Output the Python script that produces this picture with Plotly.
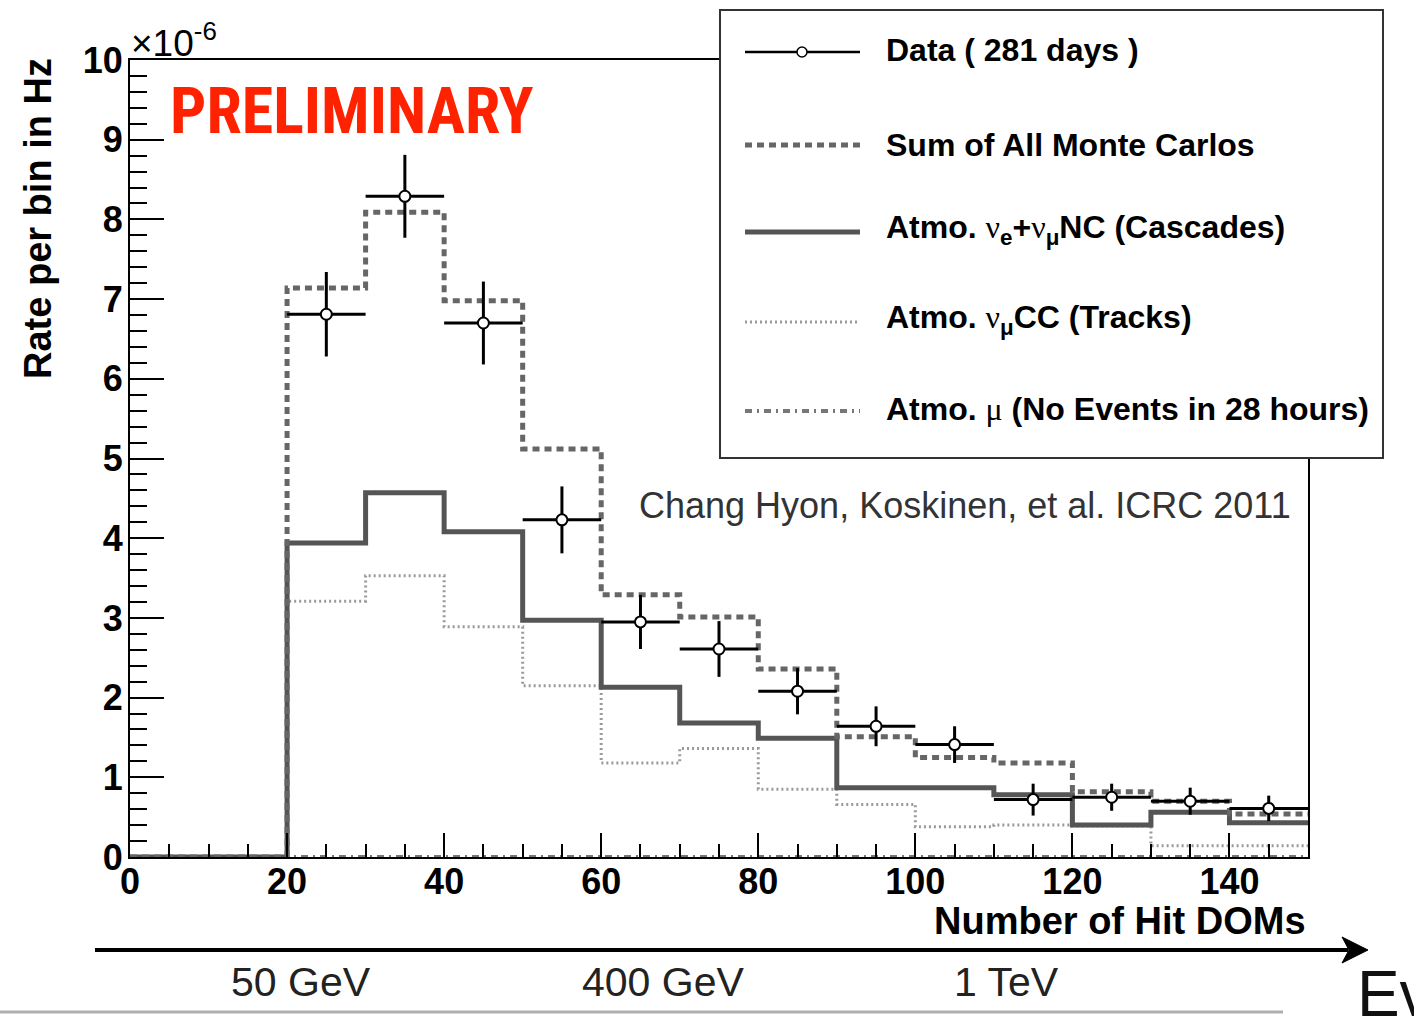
import plotly.graph_objects as go

# ---------------- data (rates in units of 1e-6 Hz) ----------------
bin_edges = [0, 20, 30, 40, 50, 60, 70, 80, 90, 100, 110, 120, 130, 140, 150]
mc_sum    = [0, 7.14, 8.09, 6.98, 5.12, 3.29, 3.01, 2.36, 1.51, 1.25, 1.18, 0.82, 0.70, 0.54]
cascades  = [0, 3.94, 4.57, 4.08, 2.97, 2.13, 1.68, 1.49, 0.87, 0.87, 0.78, 0.40, 0.56, 0.43]
tracks    = [0, 3.21, 3.53, 2.89, 2.15, 1.18, 1.36, 0.85, 0.66, 0.38, 0.40, 0.39, 0.14, 0.14]
atmo_mu   = [0, 0, 0, 0, 0, 0, 0, 0, 0, 0, 0, 0, 0, 0]

data_x    = [25, 35, 45, 55, 65, 75, 85, 95, 105, 115, 125, 135, 145]
data_y    = [6.81, 8.29, 6.70, 4.23, 2.95, 2.61, 2.08, 1.64, 1.41, 0.72, 0.75, 0.70, 0.61]
data_err  = [0.53, 0.52, 0.52, 0.42, 0.34, 0.35, 0.29, 0.25, 0.23, 0.20, 0.17, 0.17, 0.16]
data_xerr = [5] * len(data_x)

legend_labels = [
    "Data ( 281 days )",
    "Sum of All Monte Carlos",
    "Atmo. <span style='font-family:Liberation Serif;font-weight:normal'>ν</span><sub>e</sub>+"
    "<span style='font-family:Liberation Serif;font-weight:normal'>ν</span><sub>μ</sub>NC (Cascades)",
    "Atmo. <span style='font-family:Liberation Serif;font-weight:normal'>ν</span><sub>μ</sub>CC (Tracks)",
    "Atmo. <span style='font-family:Liberation Serif;font-weight:normal'>μ</span> (No Events in 28 hours)",
]
energy_labels = ["50 GeV", "400 GeV", "1 TeV"]

W, H = 1414, 1018
L, R, T, B = 130, 106, 60, 161
PW, PH = W - L - R, H - T - B


def px(x):
    return (x - L) / PW


def py(y):
    return (H - B - y) / PH


def step(vals):
    return vals + [vals[-1]]


fig = go.Figure()

fig.add_trace(go.Scatter(x=bin_edges, y=step(tracks), mode="lines", line_shape="hv",
                         line=dict(color="#9a9a9a", width=3, dash="2px,3px"), showlegend=False))
fig.add_trace(go.Scatter(x=bin_edges, y=step(atmo_mu), mode="lines", line_shape="hv",
                         line=dict(color="#777777", width=4, dash="7px,5px,2px,5px"), showlegend=False))
fig.add_trace(go.Scatter(x=bin_edges, y=step(cascades), mode="lines", line_shape="hv",
                         line=dict(color="#555555", width=5), showlegend=False))
fig.add_trace(go.Scatter(x=bin_edges, y=step(mc_sum), mode="lines", line_shape="hv",
                         line=dict(color="#666666", width=5, dash="7px,5px"), showlegend=False))
fig.add_trace(go.Scatter(
    x=data_x, y=data_y, mode="markers",
    marker=dict(symbol="circle", size=11, color="white", line=dict(color="black", width=2)),
    error_y=dict(type="data", array=data_err, color="black", thickness=3, width=0),
    error_x=dict(type="data", array=data_xerr, color="black", thickness=3, width=0),
    showlegend=False, cliponaxis=False))

shapes = []
# legend box
shapes.append(dict(type="rect", xref="paper", yref="paper", x0=px(720), x1=px(1383), y0=py(458), y1=py(10),
                   fillcolor="white", line=dict(color="#333333", width=2), layer="above"))
rows = [52, 145, 232, 322, 411]
styles = [dict(color="black", width=2.5),
          dict(color="#666666", width=5, dash="7px,5px"),
          dict(color="#555555", width=5),
          dict(color="#9a9a9a", width=3, dash="2px,3px"),
          dict(color="#777777", width=4, dash="7px,5px,2px,5px")]
for r, st in zip(rows, styles):
    shapes.append(dict(type="line", xref="paper", yref="paper", x0=px(745), x1=px(860), y0=py(r), y1=py(r),
                       line=st, layer="above"))
shapes.append(dict(type="circle", xref="paper", yref="paper", x0=px(797), x1=px(807), y0=py(57), y1=py(47),
                   fillcolor="white", line=dict(color="black", width=1.5), layer="above"))
# bottom arrow and separator
shapes.append(dict(type="line", xref="paper", yref="paper", x0=px(95), x1=px(1348), y0=py(950), y1=py(950),
                   line=dict(color="black", width=4), layer="above"))
shapes.append(dict(type="path", xref="paper", yref="paper",
                   path=f"M{px(1368)},{py(950)} L{px(1342)},{py(937)} L{px(1349)},{py(950)} L{px(1342)},{py(963)} Z",
                   fillcolor="black", line=dict(color="black", width=1), layer="above"))
shapes.append(dict(type="line", xref="paper", yref="paper", x0=px(0), x1=px(1283), y0=py(1012), y1=py(1012),
                   line=dict(color="#b0b0b0", width=3), layer="above"))

ann = []
bold = dict(family="Liberation Sans, Arial, sans-serif", color="black", weight="bold")
for r, lab in zip([50, 145, 229, 319, 409], legend_labels):
    ann.append(dict(xref="paper", yref="paper", x=px(884), y=py(r), xanchor="left", yanchor="middle",
                    text=lab, showarrow=False, font=dict(size=32, **bold)))
ann.append(dict(xref="paper", yref="paper", x=px(352), y=py(111), xanchor="center", yanchor="middle",
                text="PRELIMINARY", showarrow=False,
                font=dict(family="Liberation Sans Narrow, Roboto Condensed, DejaVu Sans Condensed, sans-serif",
                          size=64, color="#ff2200", weight="bold")))
ann.append(dict(xref="paper", yref="paper", x=px(965), y=py(506), xanchor="center", yanchor="middle",
                text="Chang Hyon, Koskinen, et al. ICRC 2011", showarrow=False,
                font=dict(family="Liberation Sans, Arial, sans-serif", size=36, color="#333333")))
ann.append(dict(xref="paper", yref="paper", x=px(1308), y=py(921), xanchor="right", yanchor="middle",
                text="Number of Hit DOMs", showarrow=False, font=dict(size=38, **bold)))
ann.append(dict(xref="paper", yref="paper", x=px(38), y=py(219), xanchor="center", yanchor="middle",
                text="Rate per bin in Hz", textangle=-90, showarrow=False, font=dict(size=38, **bold)))
ann.append(dict(xref="paper", yref="paper", x=px(129), y=py(41), xanchor="left", yanchor="middle",
                text="×10<sup>-6</sup>", showarrow=False,
                font=dict(family="Liberation Sans, Arial, sans-serif", size=37, color="black")))
for xc, lab in zip([301, 663, 1006], energy_labels):
    ann.append(dict(xref="paper", yref="paper", x=px(xc), y=py(982), xanchor="center", yanchor="middle",
                    text=lab, showarrow=False,
                    font=dict(family="Liberation Sans, Arial, sans-serif", size=41, color="#222222")))
ann.append(dict(xref="paper", yref="paper", x=px(1355), y=py(994), xanchor="left", yanchor="middle",
                text="Eν", showarrow=False,
                font=dict(family="Liberation Sans, Arial, sans-serif", size=64, color="#111111")))

axis_common = dict(showline=True, linecolor="black", linewidth=2, mirror=True, showgrid=False,
                   zeroline=False, ticks="inside", tickcolor="black", tickwidth=2,
                   tickfont=dict(family="Liberation Sans, Arial, sans-serif", size=36, color="black",
                                 weight="bold"))

fig.update_layout(
    width=W, height=H, margin=dict(l=L, r=R, t=T, b=B),
    paper_bgcolor="white", plot_bgcolor="white", showlegend=False,
    xaxis=dict(range=[0, 150], tickmode="linear", tick0=0, dtick=20, ticklen=24, ticklabelstandoff=-8,
               minor=dict(dtick=5, ticklen=13, ticks="inside", tickcolor="black", tickwidth=2),
               **axis_common),
    yaxis=dict(range=[0, 10], tickmode="linear", tick0=0, dtick=1, ticklen=34, ticklabelstandoff=-2,
               minor=dict(dtick=0.2, ticklen=17, ticks="inside", tickcolor="black", tickwidth=2),
               **axis_common),
    shapes=shapes, annotations=ann,
)

fig.write_html("out.html")
